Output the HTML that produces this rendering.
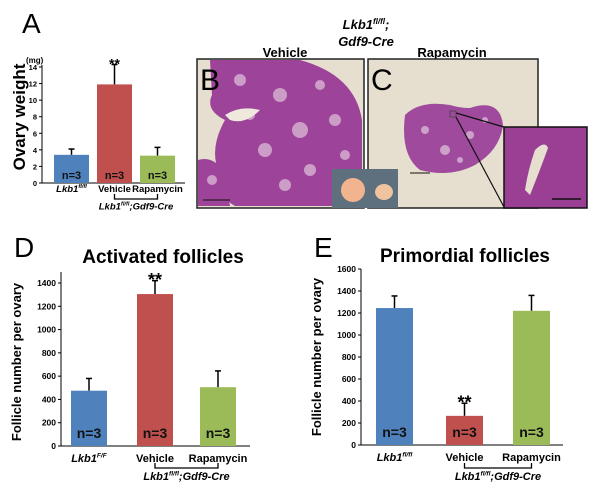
<!DOCTYPE html>
<html><head><meta charset="utf-8">
<style>
body{margin:0;background:#fff;}
svg{display:block;font-family:"Liberation Sans",Arial,sans-serif;}
</style></head>
<body>
<svg id="fig" width="600" height="499" viewBox="0 0 600 499" xmlns="http://www.w3.org/2000/svg">
<text x="22" y="33" font-size="28">A</text>
<text x="14" y="257" font-size="28">D</text>
<text x="314" y="257" font-size="28">E</text>

<text x="366" y="29" font-size="13" font-weight="bold" font-style="italic" text-anchor="middle">Lkb1<tspan font-size="8" dy="-5">fl/fl</tspan><tspan dy="5">;</tspan></text>
<text x="366" y="46" font-size="13" font-weight="bold" font-style="italic" text-anchor="middle">Gdf9-Cre</text>
<text x="285" y="57" font-size="13" font-weight="bold" text-anchor="middle">Vehicle</text>
<text x="452" y="57" font-size="13" font-weight="bold" text-anchor="middle">Rapamycin</text>

<g>
<rect x="197" y="59" width="167" height="149" fill="#e6dfd0" stroke="#222" stroke-width="1.5"/>
<path d="M210,60 L300,60 Q355,75 362,120 L362,206 L235,206 Q215,195 220,175 Q208,150 225,120 Q205,110 212,95 Z" fill="#9d4399"/>
<path d="M198,160 Q215,155 225,175 L230,206 L198,206 Z" fill="#9d4399"/>
<g fill="#d7b4d3" opacity="0.8">
<circle cx="240" cy="80" r="6"/><circle cx="280" cy="95" r="7"/><circle cx="320" cy="85" r="5"/><circle cx="300" cy="130" r="8"/><circle cx="335" cy="120" r="6"/><circle cx="265" cy="150" r="7"/><circle cx="310" cy="170" r="6"/><circle cx="345" cy="155" r="5"/><circle cx="250" cy="115" r="5"/><circle cx="285" cy="185" r="6"/><circle cx="212" cy="180" r="5"/>
</g>
<path d="M225,115 Q240,105 260,110 Q245,125 230,120 Z" fill="#efe8dd"/>
<line x1="203" y1="200" x2="230" y2="200" stroke="#111" stroke-width="1"/>
<text x="200" y="90" font-size="30">B</text>
</g>

<g>
<rect x="368" y="59" width="170" height="149" fill="#e6dfd0" stroke="#222" stroke-width="1.5"/>
<path d="M405,115 Q420,100 450,105 Q460,108 470,108 Q500,98 503,125 Q500,150 475,165 Q450,178 420,170 Q400,155 405,115 Z" fill="#a04a9e"/>
<g fill="#d9b8d6" opacity="0.8"><circle cx="425" cy="130" r="4"/><circle cx="445" cy="150" r="5"/><circle cx="470" cy="135" r="4"/><circle cx="485" cy="120" r="3"/><circle cx="460" cy="160" r="3"/></g>
<rect x="450" y="111" width="6" height="6" fill="none" stroke="#444" stroke-width="0.8"/>
<line x1="456" y1="113" x2="504" y2="127" stroke="#111" stroke-width="1.2"/>
<line x1="456" y1="117" x2="504" y2="207" stroke="#111" stroke-width="1.2"/>
<line x1="410" y1="173" x2="430" y2="173" stroke="#111" stroke-width="1"/>
<text x="371" y="90" font-size="30">C</text>
<rect x="504" y="127" width="83" height="81" fill="#9a3f93" stroke="#111" stroke-width="1.5"/>
<path d="M535,150 Q545,140 548,148 Q540,170 530,195 L525,190 Q528,170 535,150 Z" fill="#e6dfd0"/>
<line x1="552" y1="199" x2="581" y2="199" stroke="#111" stroke-width="1.5"/>
</g>

<g>
<rect x="332" y="169" width="66" height="39" fill="#5e6f7d"/>
<ellipse cx="353" cy="190" rx="12" ry="12" fill="#f2b48f"/>
<ellipse cx="384" cy="192" rx="9" ry="8" fill="#f0c4a0"/>
</g>

<g id="charts"></g>
</svg>
<script>
// Panel A data
const aCategories = ["Lkb1fl/fl", "Vehicle", "Rapamycin"];
const aValues = [3.4, 11.9, 3.3];
const aErrors = [0.7, 2.4, 1.0];
const aTicks = [0, 2, 4, 6, 8, 10, 12, 14];
// Panel D data
const dCategories = ["Lkb1F/F", "Vehicle", "Rapamycin"];
const dValues = [475, 1305, 505];
const dErrors = [105, 115, 140];
const dTicks = [0, 200, 400, 600, 800, 1000, 1200, 1400];
// Panel E data
const eCategories = ["Lkb1fl/fl", "Vehicle", "Rapamycin"];
const eValues = [1245, 265, 1220];
const eErrors = [110, 115, 140];
const eTicks = [0, 200, 400, 600, 800, 1000, 1200, 1400, 1600];
const colors = ["#4f81bd", "#c0504d", "#9bbb59"];

const NS = "http://www.w3.org/2000/svg";
const root = document.getElementById("charts");
function mk(tag, attrs, parent, text) {
  const e = document.createElementNS(NS, tag);
  for (const k in attrs) e.setAttribute(k, attrs[k]);
  if (text !== undefined) e.textContent = text;
  (parent || root).appendChild(e);
  return e;
}

function chart(cfg) {
  const g = mk("g", {});
  
  
  const y = v => cfg.y0 - (v - 0) / cfg.max * (cfg.y0 - cfg.yTop);
  const ax = mk("line", {x1: cfg.x0, y1: cfg.y0, x2: cfg.x0, y2: cfg.axTop, stroke: "#000", "stroke-width": 1}, g);
  
  
  const xa = mk("line", {x1: cfg.x0, y1: cfg.y0, x2: cfg.xEnd, y2: cfg.y0, stroke: "#000", "stroke-width": 1}, g);
  
  
  cfg.ticks.forEach(t => {
    mk("line", {x1: cfg.x0 - 3, y1: y(t), x2: cfg.x0, y2: y(t), stroke: "#000"}, g);
    const tl = mk("text", {x: cfg.x0 - 5, y: y(t) + 3, "font-size": cfg.tickFs, "font-weight": "bold", "text-anchor": "end"}, g, t);
    
    
  });
  cfg.values.forEach((v, i) => {
    const bx = cfg.barX[i], bw = cfg.barW;
    const cx = bx + bw / 2;
    const top = y(v + cfg.errors[i]);
    const el = mk("line", {x1: cx, y1: y(v), x2: cx, y2: top, stroke: "#000", "stroke-width": 1.5}, g);
    
    
    mk("line", {x1: cx - 3, y1: top, x2: cx + 3, y2: top, stroke: "#000", "stroke-width": 1.5}, g);
    const r = mk("rect", {x: bx, y: y(v), width: bw, height: cfg.y0 - y(v), fill: colors[i]}, g);
    
    
    const n = mk("text", {x: cx, y: cfg.y0 - cfg.nOff, "font-size": cfg.nFs, "font-weight": "bold", "text-anchor": "middle", fill: "#111"}, g, "n=3");
    
    
    if (i === 1) {
      const s = mk("text", {x: cx, y: top - 1 + cfg.starFs * 0.35, "font-size": cfg.starFs, "font-weight": "bold", "text-anchor": "middle"}, g, "**");
      
      
    }
    const lab = mk("text", {x: cx, y: cfg.labY, "font-size": cfg.labFs, "font-weight": "bold", "text-anchor": "middle", "font-style": i === 0 ? "italic" : "normal"}, g);
    if (i === 0) {
      lab.textContent = "Lkb1";
      mk("tspan", {"font-size": cfg.labFs * 0.6, dy: -cfg.labFs * 0.4}, lab, cfg.cats[0].slice(4));
    } else lab.textContent = cfg.cats[i];
    
    
  });
  const c1 = cfg.barX[1] + cfg.barW / 2, c2 = cfg.barX[2] + cfg.barW / 2;
  const br = mk("path", {d: `M${c1},${cfg.brY - 5} L${c1},${cfg.brY} L${c2},${cfg.brY} L${c2},${cfg.brY - 5}`, fill: "none", stroke: "#000", "stroke-width": 1.3}, g);
  
  
  const gl = mk("text", {x: (c1 + c2) / 2, y: cfg.brY + cfg.labFs + 1, "font-size": cfg.labFs, "font-weight": "bold", "font-style": "italic", "text-anchor": "middle"}, g, "Lkb1");
  mk("tspan", {"font-size": cfg.labFs * 0.6, dy: -cfg.labFs * 0.4}, gl, "fl/fl");
  mk("tspan", {dy: cfg.labFs * 0.4}, gl, ";Gdf9-Cre");
  
  
  const yt = mk("text", {x: 0, y: 0, "font-size": cfg.ytFs, "font-weight": cfg.ytW, "text-anchor": "middle", transform: `translate(${cfg.ytX},${cfg.ytY}) rotate(-90)`}, g, cfg.ytitle);
  
  
  if (cfg.title) {
    const t = mk("text", {x: cfg.titleX, y: cfg.titleY, "font-size": 19, "font-weight": "bold", "text-anchor": "middle"}, g, cfg.title);
    
    
  }
  if (cfg.unit) {
    const u = mk("text", {x: cfg.x0 - 16, y: cfg.axTop - 2, "font-size": 8, "font-weight": "bold"}, g, cfg.unit);
    
    
  }
}

chart({name: "chart-a-ovary-weight", x0: 42, y0: 183, yTop: 67, max: 14, axTop: 65, xEnd: 185,
  ticks: aTicks, values: aValues, errors: aErrors, cats: aCategories,
  barX: [54, 97, 140], barW: 35, tickFs: 7.5, nFs: 11, nOff: 4, starFs: 14,
  labY: 192, labFs: 9.5, brY: 199, ytitle: "Ovary weight", ytFs: 17, ytW: "bold", ytX: 25, ytY: 117, unit: "(mg)"});

chart({name: "chart-d-activated-follicles", x0: 61, y0: 446, yTop: 283, max: 1400, axTop: 272, xEnd: 250,
  ticks: dTicks, values: dValues, errors: dErrors, cats: dCategories,
  barX: [71, 137, 200], barW: 36, tickFs: 8.5, nFs: 14, nOff: 8, starFs: 18,
  labY: 462, labFs: 11, brY: 468, ytitle: "Follicle number per ovary", ytFs: 13, ytW: "bold", ytX: 21, ytY: 362,
  title: "Activated follicles", titleX: 163, titleY: 263});

chart({name: "chart-e-primordial-follicles", x0: 361, y0: 445, yTop: 269, max: 1600, axTop: 269, xEnd: 563,
  ticks: eTicks, values: eValues, errors: eErrors, cats: eCategories,
  barX: [376, 446, 513], barW: 37, tickFs: 8.5, nFs: 14, nOff: 8, starFs: 18,
  labY: 461, labFs: 11, brY: 468, ytitle: "Follicle number per ovary", ytFs: 13, ytW: "bold", ytX: 321, ytY: 357,
  title: "Primordial follicles", titleX: 465, titleY: 262});
</script>
</body></html>
